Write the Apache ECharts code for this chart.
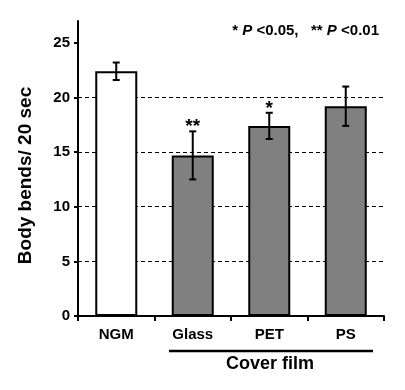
<!DOCTYPE html>
<html>
<head>
<meta charset="utf-8">
<script src="https://cdn.jsdelivr.net/npm/echarts@6/dist/echarts.min.js"></script>
<style>html,body{margin:0;padding:0;background:#fff;}#c{width:405px;height:390px;}</style>
</head>
<body>
<div id="c"></div>
<script>
var categories = ['NGM', 'Glass', 'PET', 'PS'];
var means = [22.4, 14.7, 17.4, 19.2];
var errors = [0.8, 2.2, 1.2, 1.8];
var sigLabels = ['', '**', '*', ''];
var barColors = ['#ffffff', '#808080', '#808080', '#808080'];
var yTicks = [0, 5, 10, 15, 20, 25];

var FONT = '"Liberation Sans", Arial, sans-serif';
var chart = echarts.init(document.getElementById('c'), null, {renderer: 'canvas'});

var errData = means.map(function (m, i) { return [i, m, errors[i], sigLabels[i]]; });

chart.setOption({
  animation: false,
  backgroundColor: '#ffffff',
  title: {
    text: '{n|* }{p|P}{n| <0.05,   ** }{p|P}{n| <0.01}',
    right: 21, top: 18,
    textStyle: {
      rich: {
        n: {fontFamily: FONT, fontWeight: 'bold', fontSize: 15, color: '#000'},
        p: {fontFamily: FONT, fontWeight: 'bold', fontStyle: 'italic', fontSize: 15, color: '#000'}
      }
    }
  },
  grid: {left: 78, right: 21, top: 21, bottom: 74, containLabel: false},
  xAxis: {
    type: 'category',
    data: categories,
    axisLine: {lineStyle: {color: '#000', width: 2}},
    axisTick: {show: true, length: 5, lineStyle: {color: '#000', width: 2}},
    axisLabel: {fontFamily: FONT, fontWeight: 'bold', fontSize: 15, color: '#000', margin: 11}
  },
  yAxis: {
    type: 'value',
    min: 0, max: 27, interval: 5,
    name: 'Body bends/ 20 sec',
    nameLocation: 'middle',
    nameGap: 43,
    nameRotate: 90,
    nameTextStyle: {fontFamily: FONT, fontWeight: 'bold', fontSize: 19, color: '#000', padding: [0, 0, 0, -14]},
    axisLine: {show: true, lineStyle: {color: '#000', width: 2}},
    axisTick: {show: true, length: 4, customValues: yTicks, lineStyle: {color: '#000', width: 2}},
    axisLabel: {fontFamily: FONT, fontWeight: 'bold', fontSize: 15, color: '#000', margin: 8, customValues: yTicks},
    splitLine: {show: true, showMaxLine: false, lineStyle: {color: '#000', width: 1, type: [4, 3]}}
  },
  series: [
    {
      type: 'bar',
      barWidth: 42,
      data: means.map(function (m, i) {
        return {value: m, itemStyle: {color: barColors[i], borderColor: '#000', borderWidth: 2}};
      }),
      z: 2
    },
    {
      type: 'custom',
      data: errData,
      z: 5,
      renderItem: function (params, api) {
        var x = api.value(0), m = api.value(1), e = api.value(2);
        var sig = errData[params.dataIndex][3];
        var top = api.coord([x, m + e]);
        var bot = api.coord([x, m - e]);
        var cw = 3.5;
        var style = {stroke: '#000', lineWidth: 2};
        var children = [
          {type: 'line', shape: {x1: top[0], y1: top[1], x2: bot[0], y2: bot[1]}, style: style},
          {type: 'line', shape: {x1: top[0] - cw, y1: top[1], x2: top[0] + cw, y2: top[1]}, style: style},
          {type: 'line', shape: {x1: bot[0] - cw, y1: bot[1], x2: bot[0] + cw, y2: bot[1]}, style: style}
        ];
        if (sig) {
          children.push({type: 'text', style: {
            text: sig, x: top[0], y: top[1] + 5, align: 'center', verticalAlign: 'bottom',
            font: 'bold 19px ' + FONT, fill: '#000'
          }});
        }
        return {type: 'group', children: children};
      }
    }
  ],
  graphic: [
    {type: 'line', shape: {x1: 169, y1: 351, x2: 373, y2: 351}, style: {stroke: '#000', lineWidth: 2.5}},
    {type: 'text', x: 270, y: 364, style: {text: 'Cover film', align: 'center', verticalAlign: 'middle', font: 'bold 18px ' + FONT, fill: '#000'}}
  ]
});
</script>
</body>
</html>
